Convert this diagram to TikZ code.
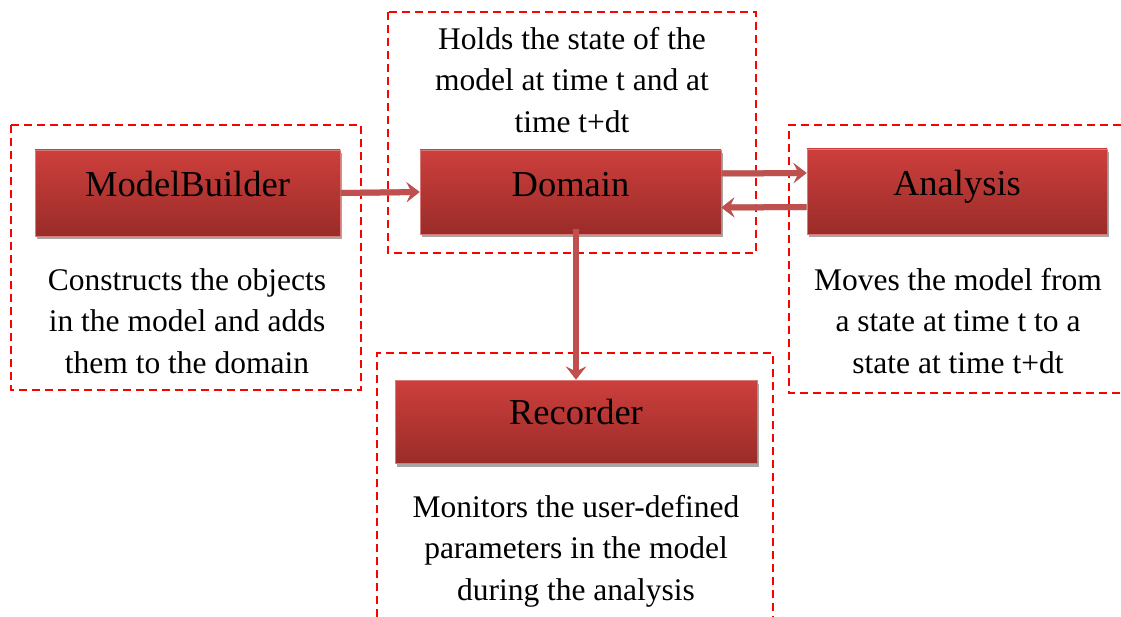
\documentclass[tikz,border=0pt]{standalone}
\usepackage{fontspec}
\setmainfont{Liberation Serif}
\usetikzlibrary{shadows,arrows.meta}
\definecolor{boxtop}{HTML}{CD3F3C}
\definecolor{boxbot}{HTML}{9A2C29}
\definecolor{boxedge}{HTML}{D77B78}
\definecolor{arrred}{HTML}{C0504D}
\definecolor{shad}{HTML}{A6A6A6}
\tikzset{
  redbox/.style={rectangle, inner sep=0pt, top color=boxtop, bottom color=boxbot,
    draw=boxedge, line width=0.8pt,
    drop shadow={shadow xshift=2pt, shadow yshift=-3.5pt, fill=shad, opacity=1}},
  boxlabel/.style={font=\fontsize{36.5}{40}\selectfont, inner sep=0pt, anchor=base},
  desc/.style={font=\fontsize{31.5}{41.5}\selectfont, align=center, inner sep=0pt},
  frame/.style={draw=red, line width=1.4pt, dash pattern=on 8pt off 5pt},
  arr/.style={draw=arrred, line width=6pt, -{Stealth[length=13pt,width=20pt,inset=5pt]}},
  arrsh/.style={draw=shad, line width=6pt, -{Stealth[length=13pt,width=20pt,inset=5pt]}},
}
\begin{document}
\begin{tikzpicture}[x=1pt,y=-1pt]
\useasboundingbox (0,0) rectangle (1121,617);
% dashed frames
\draw[frame] (11,125) rectangle (361,390);
\draw[frame] (388,12) rectangle (756,253);
\draw[frame] (1121,125) -- (789,125) -- (789,393) -- (1121,393);
\draw[frame] (377,617) -- (377,353) -- (773,353) -- (773,617);
% boxes
\node[redbox, minimum width=305pt, minimum height=86pt] (mb) at (187.5,193) {};
\node[redbox, minimum width=301pt, minimum height=84pt] (dom) at (570.5,192) {};
\node[redbox, minimum width=300pt, minimum height=85pt] (ana) at (957,191.5) {};
\node[redbox, minimum width=362pt, minimum height=83pt] (rec) at (576,421.5) {};
\node[boxlabel] (mbl) at (187.5,197) {ModelBuilder};
\node[boxlabel] (doml) at (570.5,197) {Domain};
\node[boxlabel] (anal) at (957,196) {Analysis};
\node[boxlabel] (recl) at (576,424) {Recorder};
% descriptions
\node[desc] (mbd) at (187,321) {Constructs the objects\\in the model and adds\\them to the domain};
\node[desc] (domd) at (572,80) {Holds the state of the\\model at time t and at\\time t+dt};
\node[desc] (anad) at (958,321) {Moves the model from\\a state at time t to a\\state at time t+dt};
\node[desc] (recd) at (576,551) {Monitors the user-defined\\parameters in the model\\during the analysis};
% arrows: shadows
\begin{scope}[shift={(2,3)}]
\draw[arrsh] (mb.east) -- (dom.west);
\draw[arrsh] ([yshift=18.5pt]dom.east) -- ([yshift=18.5pt]ana.west);
\draw[arrsh] ([yshift=-15.5pt]ana.west) -- ([yshift=-15.5pt]dom.east);
\draw[arrsh] ([yshift=5pt]dom.south -| rec.north) -- (rec.north);
\end{scope}
% arrows
\draw[arr] (mb.east) -- (dom.west);
\draw[arr] ([yshift=18.5pt]dom.east) -- ([yshift=18.5pt]ana.west);
\draw[arr] ([yshift=-15.5pt]ana.west) -- ([yshift=-15.5pt]dom.east);
\draw[arr] ([yshift=5pt]dom.south -| rec.north) -- (rec.north);
\end{tikzpicture}
\end{document}
